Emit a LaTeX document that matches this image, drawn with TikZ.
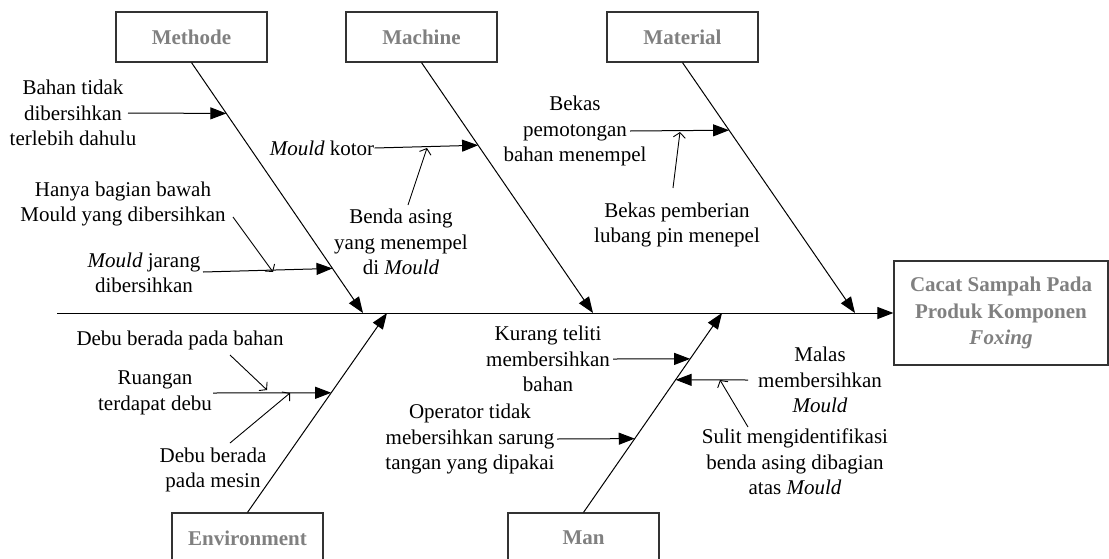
\documentclass[tikz,border=0pt]{standalone}
\usepackage{fontspec}
\setmainfont{Liberation Serif}
\usepackage{tikz}
\usetikzlibrary{calc,arrows.meta,positioning}
\newcommand{\fishfont}{\fontsize{10.5}{12.75}\selectfont}
\tikzset{
  catbox/.style={draw=black!80,line width=0.6pt,minimum width=75.5pt,
    minimum height=25pt,inner sep=0pt,text=black!50,font=\bfseries\fishfont},
  effectbox/.style={draw=black!80,line width=0.6pt,minimum width=107pt,
    minimum height=52pt,inner sep=0pt,align=center,text=black!50,
    font=\bfseries\fontsize{10.5}{13.2}\selectfont},
  txt/.style={align=center,inner sep=0pt,font=\fishfont},
  bone/.style={line width=0.5pt,-{Triangle[length=8pt,width=6pt]}},
  hint/.style={line width=0.45pt,-{Straight Barb[length=2.5pt,width=6pt]}}
}
\begin{document}
\begin{tikzpicture}[x=0.5pt,y=-0.5pt]
  \useasboundingbox (0,0) rectangle (1109,558);
  \clip (0,0) rectangle (1109,558);
  % category boxes and effect
  \node[catbox] (methode) at (191.5,37) {Methode};
  \node[catbox] (machine) at (421.5,37) {Machine};
  \node[catbox] (material) at (682.5,37) {Material};
  \node[catbox] (environment) at (247.5,538) {Environment};
  \node[catbox] (man) at (583.5,538) {Man};
  \node[effectbox] (effect) at (1001,313) {Cacat Sampah Pada\\Produk Komponen\\\textit{Foxing}};
  % spine and bones
  \coordinate (spine) at (57,313);
  \coordinate (mtdtip) at (363,313);
  \coordinate (mchtip) at (593,313);
  \coordinate (mtrtip) at (855,313);
  \coordinate (envtip) at (387,313);
  \coordinate (mantip) at (722,313);
  \draw[bone] (spine) -- (effect.west);
  \draw[bone] (methode.south) -- (mtdtip);
  \draw[bone] (machine.south) -- (mchtip);
  \draw[bone] (material.south) -- (mtrtip);
  \draw[bone] (environment.north) -- (envtip);
  \draw[bone] (man.north) -- (mantip);
  % cause labels
  \node[txt] (bahan) at (73,113) {Bahan tidak\\dibersihkan\\terlebih dahulu};
  \node[txt] (hanya) at (123,204) {Hanya bagian bawah\\Mould yang dibersihkan};
  \node[txt] (jarang) at (144,273) {\textit{Mould} jarang\\dibersihkan};
  \node[txt] (kotor) at (322,148) {\textit{Mould} kotor};
  \node[txt] (asing) at (401,242) {Benda asing\\yang menempel\\di \textit{Mould}};
  \node[txt] (potong) at (575,131) {Bekas\\pemotongan\\bahan menempel};
  \node[txt] (pin) at (677,225) {Bekas pemberian\\lubang pin menepel};
  \node[txt] (dbahan) at (180,340) {Debu berada pada bahan};
  \node[txt] (ruang) at (155,393) {Ruangan\\terdapat debu};
  \node[txt] (dmesin) at (213,470) {Debu berada\\pada mesin};
  \node[txt] (teliti) at (548,359) {Kurang teliti\\membersihkan\\bahan};
  \node[txt] (sarung) at (470,439) {Operator tidak\\mebersihkan sarung\\tangan yang dipakai};
  \node[txt] (malas) at (820,380) {Malas\\membersihkan\\\textit{Mould}};
  \node[txt] (sulit) at (795,462) {Sulit mengidentifikasi\\benda asing dibagian\\atas \textit{Mould}};
  % cause arrows onto the bones
  \coordinate (s-bahan) at (128,113);
  \coordinate (s-jarang) at (203,272);
  \coordinate (s-potong) at (630,131);
  \coordinate (s-ruang) at (213,393);
  \coordinate (s-teliti) at (613,359);
  \coordinate (s-sarung) at (557,439);
  \coordinate (s-malas) at (748,380);
  \draw[bone] (s-bahan) -- ($(methode.south)!0.203!(mtdtip)$);
  \draw[bone] (s-jarang) -- ($(methode.south)!0.822!(mtdtip)$);
  \draw[bone] (kotor.east) -- ($(machine.south)!0.33!(mchtip)$);
  \draw[bone] (s-potong) -- ($(material.south)!0.27!(mtrtip)$);
  \draw[bone] (s-ruang) -- ($(environment.north)!0.6!(envtip)$);
  \draw[bone] (s-teliti) -- ($(man.north)!0.77!(mantip)$);
  \draw[bone] (s-sarung) -- ($(man.north)!0.37!(mantip)$);
  \draw[bone] (s-malas) -- ($(man.north)!0.665!(mantip)$);
  % sub-causes
  \coordinate (h-hanya) at (233,217);
  \coordinate (h-asing) at (408,205);
  \coordinate (h-pin) at (673,188);
  \coordinate (h-dbahan) at (230,355);
  \coordinate (h-dmesin) at (230,443);
  \coordinate (h-sulit) at (748,427);
  \draw[hint] (h-hanya) -- (273,272);
  \draw[hint] (h-asing) -- (427,148);
  \draw[hint] (h-pin) -- (680,132);
  \draw[hint] (h-dbahan) -- (267,390);
  \draw[hint] (h-dmesin) -- (290,393);
  \draw[hint] (h-sulit) -- (720,380);
\end{tikzpicture}
\end{document}
